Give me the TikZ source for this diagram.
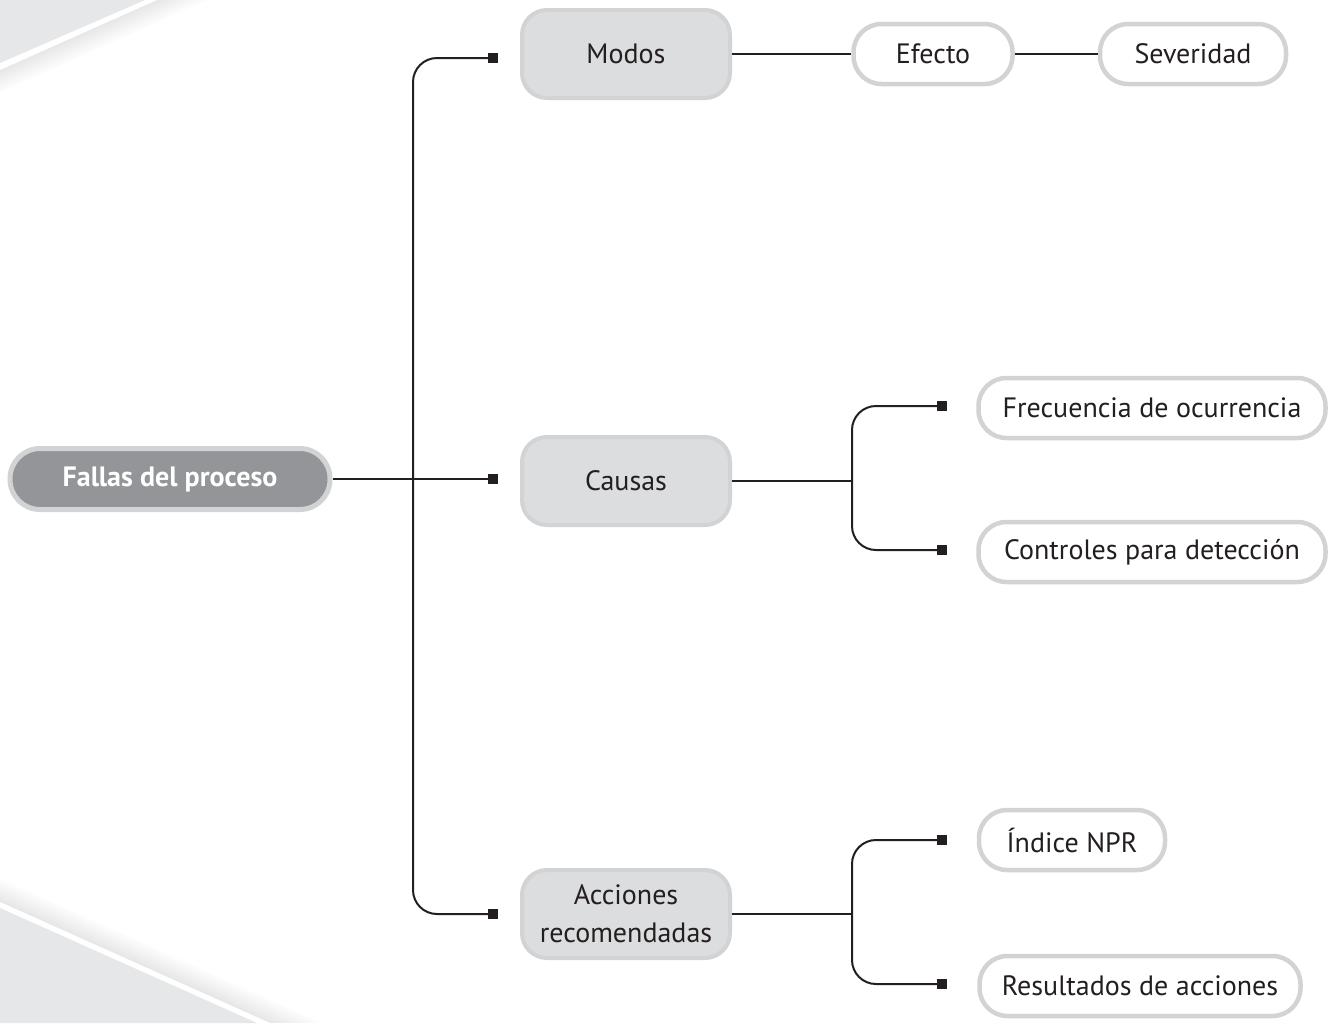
\documentclass[tikz,border=0pt]{standalone}
\usepackage{fontspec}
\setmainfont{PT Sans}
\definecolor{bggray}{HTML}{E6E7E8}
\definecolor{bord}{HTML}{D1D3D4}
\definecolor{midfill}{HTML}{DCDDDE}
\definecolor{mainfill}{HTML}{939598}
\definecolor{ink}{HTML}{231F20}
\tikzset{
  mainbox/.style={draw=bord, line width=5pt, fill=mainfill, rounded corners=30pt,
    minimum width=320pt, minimum height=61pt, inner sep=0pt, text=white,
    font=\fontsize{28}{34}\selectfont\bfseries},
  midbox/.style={draw=bord, line width=4pt, fill=midfill, rounded corners=25pt,
    minimum width=208pt, minimum height=88pt, inner sep=0pt, text=ink, align=center,
    font=\fontsize{28}{38}\selectfont},
  leafbox/.style={draw=bord, line width=4.5pt, fill=white, rounded corners=28pt,
    minimum height=60pt, inner sep=0pt, text=ink,
    font=\fontsize{28}{34}\selectfont},
  sq/.style={fill=ink, minimum size=10pt, inner sep=0pt},
  conn/.style={draw=ink, line width=2pt, rounded corners=24pt},
}
\begin{document}
\begin{tikzpicture}[x=1pt,y=-1pt]
\useasboundingbox (0,0) rectangle (1339,1023);
% background decorations
\foreach \i in {1,...,12}{
  \fill[black, opacity=0.007] (0,0) -- ({157+1.8*\i*157/66},0) -- (0,{70+1.8*\i*70/66}) -- cycle;
}
\fill[white] (0,0) -- (157,0) -- (0,70) -- cycle;
\fill[bggray] (0,0) -- (145,0) -- (0,63) -- cycle;
\foreach \i in {1,...,12}{
  \fill[black, opacity=0.007] (0,1023) -- ({270+1.8*\i*270/110},1023) -- (0,{1023-121-1.8*\i*121/110}) -- cycle;
}
\fill[white] (0,1023) -- (270,1023) -- (0,902) -- cycle;
\fill[bggray] (0,1023) -- (257,1023) -- (0,908) -- cycle;

% nodes
\node[mainbox] (fallas) at (170,479) {Fallas del proceso};
\node[midbox] (modos) at (626,54) {Modos};
\node[midbox] (causas) at (626,481) {Causas};
\node[midbox] (acciones) at (626,914) {Acciones\\recomendadas};
\node[leafbox, minimum width=159pt] (efecto) at (933,54) {Efecto};
\node[leafbox, minimum width=186pt] (severidad) at (1193,54) {Severidad};
\node[leafbox, minimum width=347pt] (frec) at (1152,408) {Frecuencia de ocurrencia};
\node[leafbox, minimum width=347pt] (ctrl) at (1152,552) {Controles para detección};
\node[leafbox, minimum width=186pt] (npr) at (1072,840) {Índice NPR};
\node[leafbox, minimum width=321pt] (res) at (1140,986) {Resultados de acciones};

% squares
\node[sq] (s1) at (493,58) {};
\node[sq] (s2) at (493,479) {};
\node[sq] (s3) at (493,914) {};
\node[sq] (s4) at (942,406) {};
\node[sq] (s5) at (942,550) {};
\node[sq] (s6) at (942,840) {};
\node[sq] (s7) at (942,984) {};
\coordinate (j1) at (413,479);
\coordinate (j2) at (852,481);
\coordinate (j3) at (852,914);

% connectors
\draw[conn] (s1.center) -| (j1) |- (s3.center);
\draw[conn] (fallas.east) -- (s2.center);
\draw[conn] (modos.east) -- (efecto.west);
\draw[conn] (efecto.east) -- (severidad.west);
\draw[conn] (causas.east) -- (j2);
\draw[conn] (s4.center) -| (j2) |- (s5.center);
\draw[conn] (acciones.east) -- (j3);
\draw[conn] (s6.center) -| (j3) |- (s7.center);
\end{tikzpicture}
\end{document}
